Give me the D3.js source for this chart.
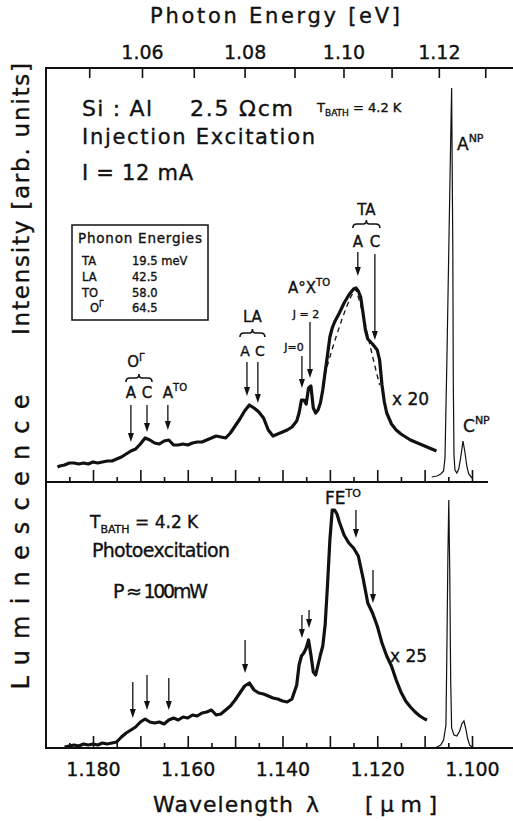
<!DOCTYPE html>
<html><head><meta charset="utf-8">
<script src="https://cdn.jsdelivr.net/npm/d3@7"></script>
<style>
body{margin:0;background:#fff}
svg{display:block}
text{font-family:"DejaVu Sans",sans-serif;fill:#111;stroke:#111;stroke-width:0.35px}
</style>
</head><body><svg id="c" width="513" height="821"></svg>
<script>
// ---------------- DATA ----------------
const energyTicks = [1.05,1.06,1.07,1.08,1.09,1.10,1.11,1.12,1.13];
const energyLabels = [1.06,1.08,1.10,1.12];
const wlTicksLong = [1.180,1.170,1.160,1.150,1.140,1.130,1.120,1.110,1.100];
const wlTicksShort = [1.185,1.175,1.165,1.155,1.145,1.135,1.125,1.115,1.105];
const wlLabels = [1.180,1.160,1.140,1.120,1.100];

const injLambda = [1.1875,1.187,1.186,1.185,1.184,1.183,1.182,1.181,1.180,1.179,1.178,1.177,1.176,1.175,1.174,1.173,1.172,1.171,1.170,1.169,1.168,1.167,1.166,1.165,1.164,1.163,1.162,1.161,1.160,1.159,1.158,1.157,1.156,1.155,1.154,1.153,1.152,1.151,1.150,1.149,1.148,1.147,1.146,1.145,1.144,1.143,1.142,1.141,1.140,1.139,1.138,1.137,1.1365,1.136,1.1355,1.135,1.1345,1.134,1.1335,1.133,1.1325,1.132,1.1315,1.131,1.1305,1.130,1.1295,1.129,1.128,1.127,1.126,1.125,1.1245,1.124,1.1235,1.123,1.1225,1.122,1.121,1.120,1.1195,1.119,1.1185,1.118,1.117,1.116,1.115,1.114,1.113,1.112,1.111,1.110,1.109,1.108,1.1075];
const injIntensity = [3.75,4.0,4.25,4.75,4.75,4.5,4.75,4.5,5.0,4.75,5.0,5.25,5.25,5.75,6.25,7.0,7.75,8.25,9.5,11.0,10.5,9.75,9.5,10.25,10.5,9.25,9.25,9.5,9.25,9.75,10.0,10.0,10.5,11.0,11.5,11.25,11.0,12.25,14.0,15.75,17.75,19.25,18.5,17.5,16.0,13.0,11.5,12.0,12.5,13.0,13.75,15.25,17.25,20.5,20.5,19.5,23.5,24.0,18.5,17.25,18.0,19.75,23.0,27.5,31.75,36.25,38.5,40.0,42.25,44.75,46.75,48.25,48.5,47.75,46.25,42.25,38.0,35.75,34.5,33.0,30.5,24.25,20.0,17.25,14.5,13.0,12.0,11.25,10.5,10.0,9.5,9.0,8.5,8.0,7.75];
const dashLambda = [1.1315,1.1305,1.1295,1.1285,1.1275,1.1265,1.1255,1.1245,1.1235,1.1225,1.1215,1.1205,1.1195];
const dashIntensity = [24.5,29.25,33.25,37.0,40.5,43.75,46.5,48.25,44.25,39.25,34.0,29.0,24.25];
const injNPLambda = [1.1085,1.1074,1.1066,1.1060,1.1057,1.1053,1.1049,1.1045,1.1043,1.10405,1.10395,1.1038,1.1036,1.1032,1.1028,1.1024,1.1019,1.1015,1.1011,1.1007,1.1000];
const injNPIntensity = [1.25,1.5,2.0,2.75,6.0,30.5,58,85.5,98.5,58,25.5,6.75,3.0,2.25,3.25,6.0,10.25,7.5,4.0,2.0,1.0];

const phoLambda = [1.186,1.185,1.184,1.183,1.182,1.181,1.180,1.179,1.178,1.177,1.176,1.175,1.174,1.173,1.172,1.171,1.170,1.169,1.168,1.167,1.166,1.165,1.164,1.163,1.162,1.161,1.160,1.159,1.158,1.157,1.156,1.155,1.154,1.153,1.152,1.151,1.150,1.149,1.148,1.147,1.146,1.145,1.144,1.143,1.142,1.141,1.140,1.139,1.138,1.137,1.1365,1.136,1.1355,1.135,1.1345,1.134,1.1335,1.133,1.1325,1.132,1.1315,1.131,1.1305,1.130,1.1295,1.129,1.1285,1.128,1.127,1.126,1.125,1.1245,1.124,1.123,1.122,1.121,1.120,1.119,1.118,1.117,1.116,1.115,1.114,1.113,1.112,1.111,1.110,1.1095];
const phoIntensity = [0.5,1.0,1.5,1.0,2.0,1.5,2.0,1.5,2.5,2.0,2.5,3.0,5.5,7.5,9.0,10.5,13.0,14.5,13.0,12.5,13.0,12.0,14.0,15.0,14.0,15.5,15.0,16.5,16.0,17.5,18.0,19.0,16.5,17.0,19.0,21.0,24.0,27.5,31.0,32.5,29.0,27.5,27.0,26.0,25.0,24.5,23.5,23.0,24.5,31.5,41.5,46.0,47.5,50.0,54.0,46.5,38.0,36.5,41.5,46.5,51.0,61.5,81.5,104.0,119.0,119.0,117.0,113.0,106.5,102.5,100.0,98.0,96.0,85.0,72.5,67.5,61.0,52.5,46.0,41.0,34.0,28.0,23.5,20.5,18.0,16.0,14.5,14.0];
const phoNPLambda = [1.1083,1.1074,1.1066,1.1060,1.1055,1.1053,1.1051,1.1049,1.1047,1.1045,1.1043,1.1038,1.1032,1.1026,1.10215,1.1017,1.1013,1.1009,1.1005,1.0998];
const phoNPIntensity = [0,0.5,1.5,4.0,11.5,49,94,124,89,34,10,6.5,6.0,8.5,12,13.5,9.5,4.5,1.5,0];

// Arrow annotations: [wavelength, from intensity, to intensity]
const topArrows = [[1.1720,19.25,10.0],[1.1686,19.25,12.5],[1.1642,19.25,13.0],[1.1475,30.0,21.5],[1.1452,30.0,19.75],[1.1359,31.5,23.5],[1.1342,40.0,26.0],[1.1241,57.5,51.5],[1.1205,57.0,35.5]];
const botArrows = [[1.1716,33,15],[1.1686,36.5,19],[1.1640,35,19],[1.1479,54,37.5],[1.1359,66.5,55],[1.1344,69,60],[1.1245,119,105],[1.1209,89,72.5]];

const phononNames = ["TA","LA","TO","O"];
const phononValues = ["19.5 meV","42.5","58.0","64.5"];

// ---------------- CHART ----------------
const svg = d3.select('#c');
const hc = 1.23984;
const x = d3.scaleLinear().domain([1.180, 1.100]).range([93, 472]);
const yTop = d3.scaleLinear().domain([0, 103.5]).range([482, 68]);
const yBot = d3.scaleLinear().domain([0, 133]).range([748, 482]);
const INK = '#111';

const frame = svg.append('g').attr('stroke', INK).attr('stroke-width', 2);
frame.append('line').attr('x1',46).attr('x2',513).attr('y1',68).attr('y2',68);
frame.append('line').attr('x1',46).attr('x2',488).attr('y1',482).attr('y2',482);
frame.append('line').attr('x1',46).attr('x2',513).attr('y1',748).attr('y2',748);
frame.append('line').attr('x1',46).attr('x2',46).attr('y1',67).attr('y2',749);

function styleAxis(g){
  g.select('.domain').remove();
  g.selectAll('.tick line').attr('stroke', INK).attr('stroke-width', 1.6);
  g.attr('font-family', '"DejaVu Sans", sans-serif');
}
const eFmt = d3.format('.2f');
svg.append('g').attr('transform','translate(0,68)')
  .call(d3.axisTop(x).tickValues(energyTicks.map(e=>hc/e)).tickSizeInner(-10).tickSizeOuter(0).tickPadding(9)
    .tickFormat((l,i)=> energyLabels.some(v=>Math.abs(v-energyTicks[i])<1e-6) ? eFmt(energyTicks[i]) : ''))
  .call(styleAxis)
  .call(g=>g.selectAll('text').attr('font-size',19).attr('fill',INK));

[[482,false],[748,true]].forEach(([yy,lab])=>{
  svg.append('g').attr('transform',`translate(0,${yy})`)
    .call(d3.axisBottom(x).tickValues(wlTicksShort).tickSizeInner(-5).tickSizeOuter(0).tickFormat(''))
    .call(styleAxis);
  svg.append('g').attr('transform',`translate(0,${yy})`)
    .call(d3.axisBottom(x).tickValues(wlTicksLong).tickSizeInner(-12).tickSizeOuter(0).tickPadding(15)
      .tickFormat(v=> lab && wlLabels.some(w=>Math.abs(w-v)<1e-6) ? d3.format('.3f')(v) : ''))
    .call(styleAxis)
    .call(g=>g.selectAll('text').attr('font-size',19).attr('fill',INK));
});

function txt(s,xx,yy,fs,anchor){
  return svg.append('text').attr('x',xx).attr('y',yy).attr('font-size',fs).attr('text-anchor',anchor||'start').text(s);
}
function sup(t, s, dy, fs){ t.append('tspan').attr('dy',dy).attr('font-size',fs).text(s); return t; }

// axis titles
txt('Photon Energy [eV]',275,23,21,'middle').attr('textLength',250);
txt('Wavelength',153,812,22).attr('textLength',140);
txt('λ',306,812,22);
txt('[μm]',365,812,22).attr('textLength',72);
svg.append('text').attr('transform','translate(29,199) rotate(-90)').attr('text-anchor','middle')
  .attr('font-size',23).attr('textLength',272).text('Intensity [arb. units]');
svg.append('text').attr('transform','translate(29,542) rotate(-90)').attr('text-anchor','middle')
  .attr('font-size',24).attr('textLength',295).text('Luminescence');

// curves
const lineTop = d3.line().x(d=>x(d[0])).y(d=>yTop(d[1]));
const lineBot = d3.line().x(d=>x(d[0])).y(d=>yBot(d[1]));
svg.append('path').datum(d3.zip(dashLambda, dashIntensity)).attr('d',lineTop)
  .attr('fill','none').attr('stroke',INK).attr('stroke-width',1.3).attr('stroke-dasharray','5,4');
svg.append('path').datum(d3.zip(injLambda, injIntensity)).attr('d',lineTop)
  .attr('fill','none').attr('stroke',INK).attr('stroke-width',3.2).attr('stroke-linejoin','round');
svg.append('path').datum(d3.zip(injNPLambda, injNPIntensity)).attr('d',lineTop)
  .attr('fill','none').attr('stroke',INK).attr('stroke-width',1.2);
svg.append('path').datum(d3.zip(phoLambda, phoIntensity)).attr('d',lineBot)
  .attr('fill','none').attr('stroke',INK).attr('stroke-width',3.2).attr('stroke-linejoin','round');
svg.append('path').datum(d3.zip(phoNPLambda, phoNPIntensity)).attr('d',lineBot)
  .attr('fill','none').attr('stroke',INK).attr('stroke-width',1.2);

function arrows(list, y){
  const g = svg.append('g');
  list.forEach(([l,a,b])=>{
    const xx = x(l), y1 = y(a), y2 = y(b);
    g.append('line').attr('x1',xx).attr('x2',xx).attr('y1',y1).attr('y2',y2-7)
      .attr('stroke',INK).attr('stroke-width',1.3);
    g.append('path').attr('d',`M${xx-3},${y2-9} L${xx+3},${y2-9} L${xx},${y2} Z`).attr('fill',INK);
  });
}
arrows(topArrows, yTop);
arrows(botArrows, yBot);

function brace(x1,x2,yy){
  const xm=(x1+x2)/2;
  svg.append('path').attr('d',`M${x1},${yy+4} Q${x1},${yy} ${x1+4},${yy} L${xm-3},${yy} Q${xm},${yy} ${xm},${yy-4} Q${xm},${yy} ${xm+3},${yy} L${x2-4},${yy} Q${x2},${yy} ${x2},${yy+4}`)
    .attr('fill','none').attr('stroke',INK).attr('stroke-width',1.6);
}

// TA group
const taA = x(topArrows[7][0]), taC = x(topArrows[8][0]);
txt('TA',(taA+taC)/2,215,15,'middle');
brace(taA-5,taC+5,224);
txt('A',taA,247,15,'middle'); txt('C',taC,247,15,'middle');
// LA group
const laA = x(topArrows[3][0]), laC = x(topArrows[4][0]);
txt('LA',(laA+laC)/2,322,15,'middle');
brace(laA-7,laC+7,333);
txt('A',laA-2,356,14,'middle'); txt('C',laC+2,356,14,'middle');
// O^Γ group
const oA = x(topArrows[0][0]), oC = x(topArrows[1][0]);
sup(txt('O',(oA+oC)/2-3,367,15,'middle'),'Γ',-6,10);
brace(oA-5,oC+5,378);
txt('A',oA,398,15,'middle'); txt('C',oC,398,15,'middle');
sup(txt('A',x(topArrows[2][0])-5,398,15),'TO',-7,10);
// A°X^TO
sup(txt('A°X',288,293,15),'TO',-7,10);
txt('J = 2',x(topArrows[6][0])-4,318,11,'middle');
txt('J=0',x(topArrows[5][0])-8,351,11,'middle');
txt('x 20',392,405,17);
sup(txt('A',457,150,17),'NP',-8,11);
sup(txt('C',463,432,17),'NP',-8,11);

// upper labels
txt('Si : Al',82,116,22).attr('textLength',70);
txt('2.5 Ωcm',190,116,22).attr('textLength',103);
{ const t = txt('T',317,112,13);
  t.append('tspan').attr('dy',4).attr('font-size',9).text('BATH');
  t.append('tspan').attr('dy',-4).text(' = 4.2 K'); }
txt('Injection Excitation',82,144,21).attr('textLength',233);
txt('I = 12 mA',82,180,21).attr('textLength',111);

// Phonon box
svg.append('rect').attr('x',72).attr('y',225).attr('width',136).attr('height',95)
  .attr('fill','none').attr('stroke',INK).attr('stroke-width',1.5);
txt('Phonon Energies',78,243,13.5).attr('textLength',124);
const rowsY = [265,281,297,312];
phononNames.forEach((n,i)=>{
  const t = txt(n, i===3 ? 90 : 82, rowsY[i], 11.5);
  if(i===3) t.append('tspan').attr('dy',-5).attr('font-size',8).text('Γ');
  txt(phononValues[i],132,rowsY[i],11.5);
});

// lower labels
{ const t = txt('T',90,528,17);
  t.append('tspan').attr('dy',5).attr('font-size',11).text('BATH');
  t.append('tspan').attr('dy',-5).text(' = 4.2 K'); }
txt('Photoexcitation',92,557,19).attr('textLength',138);
txt('P ≈ 100mW',113,598,19).attr('textLength',95);
sup(txt('FE',325,504,17),'TO',-7,11);
txt('x 25',390,662,17);
</script>
</body></html>
